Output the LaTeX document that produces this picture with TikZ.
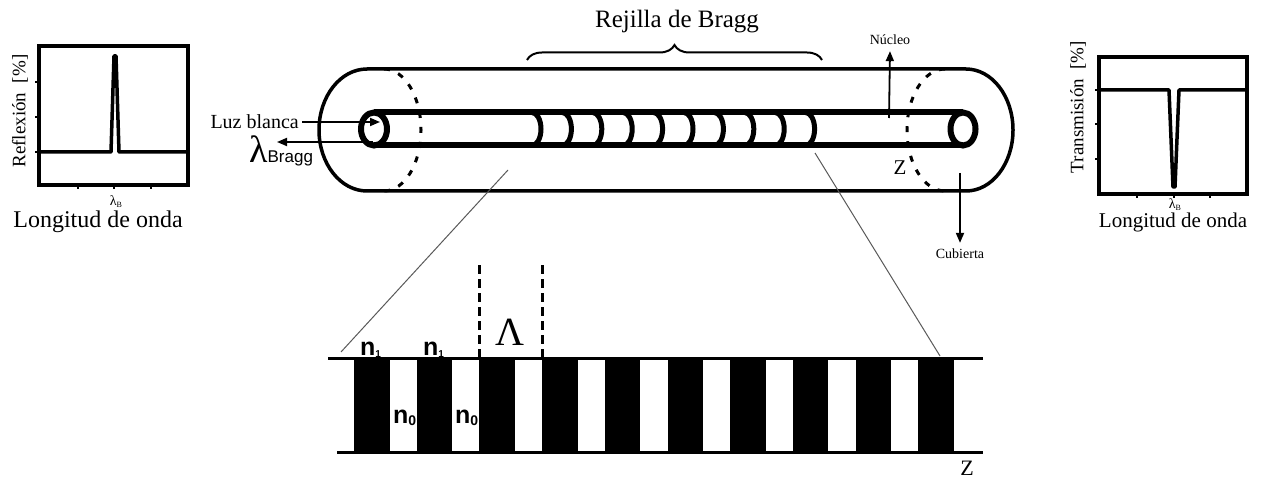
\documentclass[tikz,border=0pt]{standalone}
\usepackage{fontspec}
\setmainfont{Liberation Serif}
\setsansfont{Liberation Sans}
\usepackage{tikz}
\usetikzlibrary{arrows.meta}
\usetikzlibrary{decorations.pathreplacing}
\newcommand{\fs}[1]{\fontsize{#1}{#1}\selectfont}
\newcommand{\sub}[2]{\raisebox{-2pt}{\fs{#1}#2}}

\begin{document}
\begin{tikzpicture}[x=1pt,y=-1pt,
  every node/.style={inner sep=0pt},
  caja/.style={line width=3.5pt},
  curva/.style={line width=3.5pt,line join=round},
  marca/.style={line width=2pt},
  vaina/.style={line width=3.5pt},
  tubo/.style={line width=6pt},
  anillo/.style={line width=5pt},
  corte/.style={line width=3pt,dash pattern=on 6pt off 9pt},
  flecha/.style={line width=1.8pt,-{Triangle[length=10pt,width=8pt]}},
  lupa/.style={line width=1pt,black!65},
  borde/.style={line width=3pt},
  periodo/.style={line width=3pt,dash pattern=on 9pt off 5pt},
  indice/.style={font=\sffamily\bfseries\fs{25},anchor=base west}]
\useasboundingbox (0,0) rectangle (1269,481);
\draw[caja] (39,46) rectangle (188,185);
\foreach \y in {82,117,152} \draw[marca] (35,\y) -- (39,\y);
\foreach \x in {78,114,151} \draw[marca] (\x,185) -- (\x,189);
\draw[curva] (39,152) -- (111,152) -- (114,56) -- (116,56) -- (119,152) -- (188,152);
\node[rotate=90,font=\fs{19}] (reflexion) at (20,111) {Reflexión~~[\%]};
\node[font=\fs{14}] (lambdaR) at (116,202) {λ\sub{8}{B}};
\node[font=\fs{24},anchor=base] (ondaR) at (98,228) {Longitud de onda};

\draw[caja] (1099,57) rectangle (1247,194);
\foreach \y in {90,124,159} \draw[marca] (1095,\y) -- (1099,\y);
\foreach \x in {1137,1174,1210} \draw[marca] (\x,194) -- (\x,198);
\draw[curva] (1099,90) -- (1169,90) -- (1173,187) -- (1175,187) -- (1179,90) -- (1247,90);
\node[rotate=90,font=\fs{19}] (transmision) at (1078,107) {Transmisión~~[\%]};
\node[font=\fs{14}] (lambdaT) at (1175,205) {λ\sub{8}{B}};
\node[font=\fs{21},anchor=base] (ondaT) at (1173,228) {Longitud de onda};

\draw[vaina] (367,69) -- (966,69) arc[start angle=-90,end angle=90,x radius=47,y radius=61]
  -- (367,191) arc[start angle=90,end angle=270,x radius=48,y radius=61] -- cycle;
\draw[corte] (384,69) arc[start angle=-90,end angle=90,x radius=37,y radius=61];
\draw[corte] (945,69) arc[start angle=-90,end angle=-270,x radius=38,y radius=61];
\draw[tubo] (374,112.5) -- (963,112.5) (374,145.5) -- (963,145.5);
\draw[tubo] (374,129) ellipse[x radius=13,y radius=16.5];
\draw[tubo] (963,129) ellipse[x radius=12.5,y radius=16.5];
\foreach \k in {0,...,9}
  \draw[anillo] ({532+30.4*\k},112.5) arc[start angle=-90,end angle=90,x radius=9,y radius=16.5];

\node[anchor=east,font=\fs{20}] (luz) at (299,122) {Luz blanca};
\coordinate (entrada) at (380,122);
\draw[flecha] ([xshift=3pt]luz.east) -- (entrada);
\coordinate (salida) at (373,142);
\coordinate (reflejo) at (277,142);
\draw[flecha] (salida) -- (reflejo);
\node[anchor=base west] (bragg) at (249,163) {\fs{38}λ\sffamily\fs{17}Bragg};

\node[font=\fs{14}] (nucleo) at (890,40) {Núcleo};
\coordinate (nucleoPie) at (889,118);
\draw[flecha] (nucleoPie) -- ([yshift=-6pt]nucleo.south);
\node[font=\fs{14}] (cubierta) at (960,254) {Cubierta};
\coordinate (cubiertaPie) at (960,173);
\draw[flecha] (cubiertaPie) -- ([yshift=6pt]cubierta.north);
\node[font=\fs{21}] (zfibra) at (900,168) {Z};

\draw[decorate,decoration={brace,amplitude=15pt},line width=2pt] (527,60) -- (822,60);
\node[font=\fs{25},anchor=base] (rejilla) at (677,28) {Rejilla de Bragg};

\draw[borde] (328,358) -- (983,358);
\draw[borde] (337,452) -- (983,452);
\foreach \k in {0,...,9} \fill ({354+62.7*\k},358) rectangle ++(35.5,94);
\draw[periodo] (479,265) -- (479,358);
\draw[periodo] (542,265) -- (542,358);
\node[font=\fs{40}] (lambdaP) at (510,332) {Λ};
\node[indice] (n1a) at (360,355) {n\sub{10}{1}};
\node[indice] (n1b) at (423,355) {n\sub{10}{1}};
\node[indice] (n0a) at (393,423) {n\sub{14}{0}};
\node[indice] (n0b) at (455,423) {n\sub{14}{0}};
\node[font=\fs{22}] (zbanda) at (967,468) {Z};

\coordinate (lupaA) at (508,170);
\coordinate (lupaB) at (341,352);
\draw[lupa] (lupaA) -- (lupaB);
\coordinate (lupaC) at (815,153);
\coordinate (lupaD) at (940,356);
\draw[lupa] (lupaC) -- (lupaD);
\end{tikzpicture}
\end{document}
